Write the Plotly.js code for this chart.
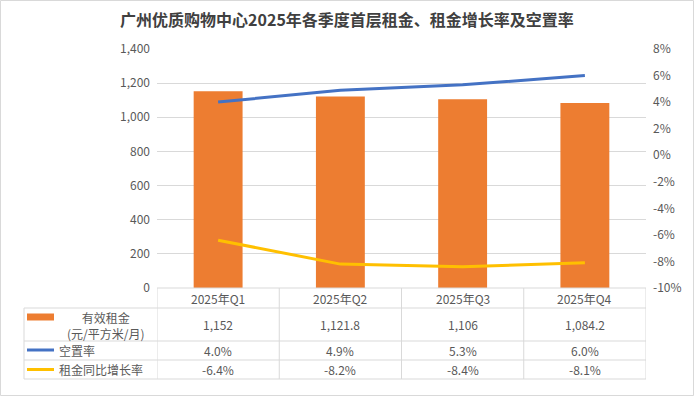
<!DOCTYPE html>
<html><head><meta charset="utf-8">
<script src="https://cdn.plot.ly/plotly-3.0.1.min.js"></script>
<style>html,body{margin:0;padding:0;background:#fff}#c{width:694px;height:396px}</style>
</head><body><div id="c"></div>
<script>
const categories = ['2025年Q1','2025年Q2','2025年Q3','2025年Q4'];
const rent = [1152, 1121.8, 1106, 1084.2];
const rentLabels = ['1,152','1,121.8','1,106','1,084.2'];
const vacancy = [4.0, 4.9, 5.3, 6.0];
const growth = [-6.4, -8.2, -8.4, -8.1];
const seriesNames = ['有效租金<br>(元/平方米/月)', '空置率', '租金同比增长率'];
const rightTicks = [8, 6, 4, 2, 0, -2, -4, -6, -8, -10];

const TXT = '#595959';
const FONT = '"Noto Sans CJK SC", "Noto Sans", sans-serif';
const L = 157, R = 646, T = 49, B = 288, W = 694, H = 396;
const px2x = p => (p - L) / (R - L);
const px2y = p => (B - p) / (B - T);

const traces = [
  {type:'bar', x:categories, y:rent, width:0.4, marker:{color:'#ED7D31'}, name:'有效租金', hoverinfo:'skip'},
  {type:'scatter', mode:'lines', x:categories, y:vacancy, yaxis:'y2', line:{color:'#4472C4', width:3}, name:'空置率'},
  {type:'scatter', mode:'lines', x:categories, y:growth, yaxis:'y2', line:{color:'#FFC000', width:3}, name:'租金同比增长率'}
];

const gridC = '#D9D9D9';
const shapes = [];
const ann = [];
// outer border
shapes.push({type:'rect', xref:'paper', yref:'paper', x0:px2x(0.5), x1:px2x(W-0.5), y0:px2y(H-0.5), y1:px2y(0.5), line:{color:'#D9D9D9', width:1}});
// table horizontal lines
shapes.push({type:'line', xref:'paper', yref:'paper', x0:0, x1:1, y0:px2y(288), y1:px2y(288), line:{color:gridC, width:1}});
[308, 341, 360, 379].forEach(py => shapes.push({type:'line', xref:'paper', yref:'paper', x0:px2x(24), x1:1, y0:px2y(py), y1:px2y(py), line:{color:gridC, width:1}}));
// left edge
shapes.push({type:'line', xref:'paper', yref:'paper', x0:px2x(24), x1:px2x(24), y0:px2y(308), y1:px2y(379), line:{color:gridC, width:1}});
// column boundaries
for (let i = 0; i <= categories.length; i++) {
  shapes.push({type:'line', xref:'x', yref:'paper', x0:i-0.5, x1:i-0.5, y0:px2y(288), y1:px2y(379), line:{color:gridC, width:1}});
}
// legend keys
shapes.push({type:'rect', xref:'paper', yref:'paper', x0:px2x(27), x1:px2x(54), y0:px2y(320.5), y1:px2y(313.5), fillcolor:'#ED7D31', line:{width:0}});
shapes.push({type:'line', xref:'paper', yref:'paper', x0:px2x(27), x1:px2x(54), y0:px2y(350), y1:px2y(350), line:{color:'#4472C4', width:3}});
shapes.push({type:'line', xref:'paper', yref:'paper', x0:px2x(27), x1:px2x(54), y0:px2y(369.5), y1:px2y(369.5), line:{color:'#FFC000', width:3}});

const f12 = {family:FONT, size:12, color:TXT};
function addText(text, xref, x, py, xanchor) {
  ann.push({text, xref, yref:'paper', x, y:px2y(py), xanchor:xanchor||'center', yanchor:'middle', showarrow:false, font:f12});
}
categories.forEach((c, i) => {
  addText(c, 'x', i, 298);
  addText(rentLabels[i], 'x', i, 324.5);
  addText(vacancy[i].toFixed(1) + '%', 'x', i, 350.5);
  addText(growth[i].toFixed(1) + '%', 'x', i, 369.5);
});
addText(seriesNames[0], 'paper', px2x(106), 325);
addText(seriesNames[1], 'paper', px2x(57), 350.5, 'left');
addText(seriesNames[2], 'paper', px2x(57), 369.5, 'left');

const layout = {
  width:W, height:H,
  margin:{l:L, r:W-R, t:T, b:H-B, pad:0},
  paper_bgcolor:'#fff', plot_bgcolor:'#fff',
  showlegend:false,
  font:{family:FONT, size:12, color:TXT},
  title:{text:'<b>广州优质购物中心2025年各季度首层租金、租金增长率及空置率</b>', xref:'container', x:347/W, xanchor:'center', yref:'container', y:1-20/H, yanchor:'middle', font:{family:FONT, size:16, color:'#404040'}},
  xaxis:{type:'category', categoryorder:'array', categoryarray:categories, range:[-0.5, 3.5], showticklabels:false, showgrid:false, zeroline:false, showline:false, ticks:'', fixedrange:true},
  yaxis:{range:[0,1400], dtick:200, tickformat:',d', showgrid:true, gridcolor:gridC, gridwidth:1, zeroline:false, showline:false, ticks:'', ticklabelstandoff:6, tickfont:f12},
  yaxis2:{overlaying:'y', side:'right', range:[-10,8], tickvals:rightTicks, ticktext:rightTicks.map(v => (v<0?'-':'') + Math.abs(v) + '%'), showgrid:false, zeroline:false, showline:false, ticks:'', ticklabelstandoff:6, tickfont:f12},
  shapes, annotations:ann,
  bargap:0.6
};
Plotly.newPlot('c', traces, layout, {staticPlot:true, displayModeBar:false});
</script></body></html>
